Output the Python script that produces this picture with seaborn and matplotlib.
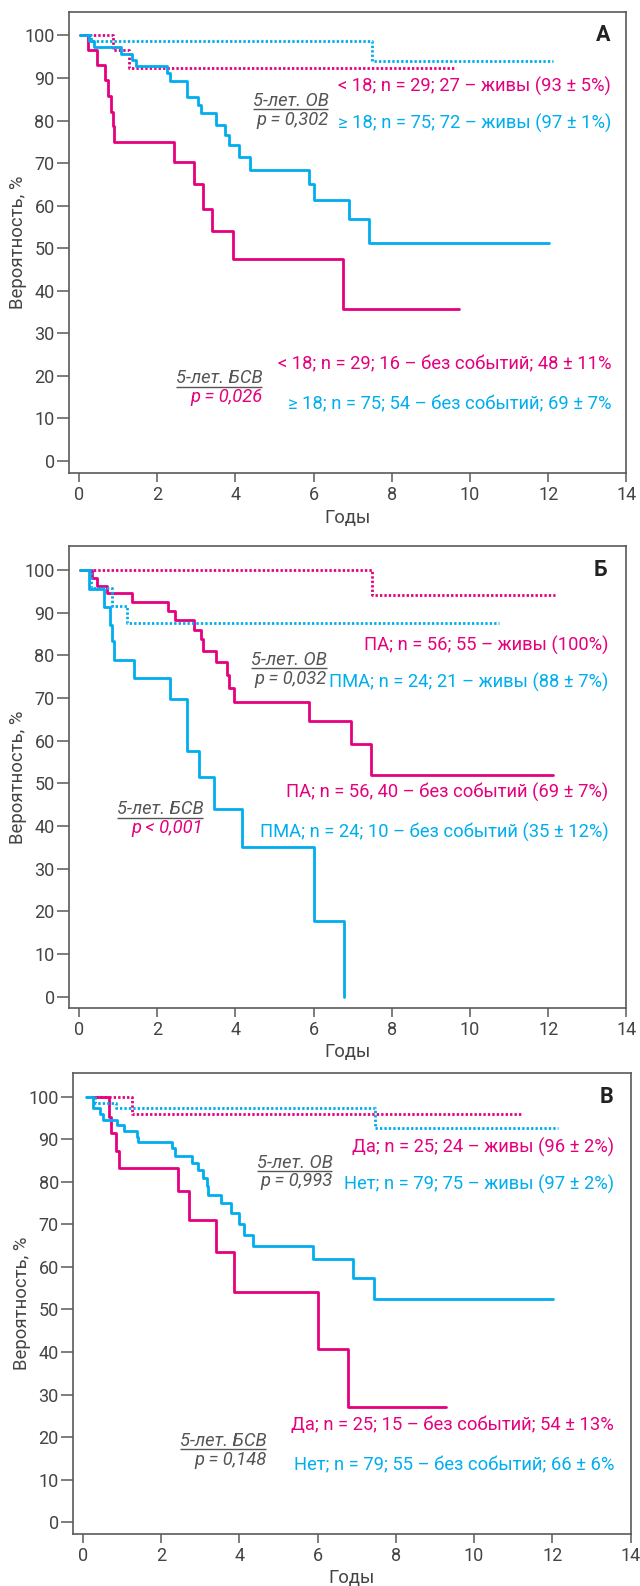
import numpy as np
import pandas as pd
import matplotlib.pyplot as plt
import seaborn as sns

PINK = '#E5007E'
BLUE = '#00AEEF'
GREY = '#555555'
AXC = '#5a5a5a'

# ---- Панель А (возраст) ----
a_os_lt18_t = [0.03, 0.88, 1.28, 9.65]
a_os_lt18_s = [100, 96.5, 92.4, 92.4]
a_os_ge18_t = [0.03, 0.30, 7.49, 12.13]
a_os_ge18_s = [100, 98.6, 93.9, 93.9]
a_efs_lt18_t = [0.03, 0.24, 0.47, 0.66, 0.74, 0.82, 0.87, 0.91, 2.43, 2.94, 3.18, 3.41, 3.94, 6.75, 9.73]
a_efs_lt18_s = [100, 96.5, 93.0, 89.5, 85.8, 82.0, 78.6, 75.0, 70.3, 65.0, 59.3, 54.0, 47.5, 35.7, 35.7]
a_efs_ge18_t = [0.03, 0.25, 0.38, 1.08, 1.35, 1.46, 2.26, 2.33, 2.77, 3.05, 3.12, 3.52, 3.75, 3.83,
                4.09, 4.37, 5.89, 6.00, 6.91, 7.43, 12.02]
a_efs_ge18_s = [100, 98.7, 97.3, 95.7, 94.3, 92.8, 91.2, 89.2, 85.6, 83.6, 81.7, 79.0, 76.7, 74.2,
                71.4, 68.4, 65.1, 61.4, 56.9, 51.2, 51.2]
a_groups = ['< 18', '≥ 18']
a_os_text = ['< 18; n = 29; 27 – живы (93 ± 5%)', '≥ 18; n = 75; 72 – живы (97 ± 1%)']
a_efs_text = ['< 18; n = 29; 16 – без событий; 48 ± 11%', '≥ 18; n = 75; 54 – без событий; 69 ± 7%']
a_p = ['p = 0,302', 'p = 0,026']

# ---- Панель Б (ПА / ПМА) ----
b_os_pa_t = [0.03, 7.49, 12.18]
b_os_pa_s = [100, 94.1, 94.1]
b_os_pma_t = [0.03, 0.30, 0.84, 1.22, 10.73]
b_os_pma_s = [100, 95.8, 91.6, 87.5, 87.5]
b_efs_pa_t = [0.03, 0.33, 0.47, 0.72, 1.35, 2.29, 2.45, 2.94, 3.12, 3.18, 3.52, 3.78, 3.85, 3.96,
              5.89, 6.96, 7.46, 12.13]
b_efs_pa_s = [100, 98.1, 96.3, 94.5, 92.6, 90.5, 88.3, 86.0, 83.8, 81.1, 78.5, 75.5, 72.4, 69.0,
              64.7, 59.3, 51.9, 51.9]
b_efs_pma_t = [0.03, 0.25, 0.65, 0.79, 0.85, 0.91, 1.42, 2.34, 2.77, 3.08, 3.45, 4.16, 6.02, 6.78]
b_efs_pma_s = [100, 95.5, 91.4, 87.1, 83.3, 78.9, 74.8, 69.8, 57.5, 51.4, 43.9, 35.1, 17.7, 0]
b_groups = ['ПА', 'ПМА']
b_os_text = ['ПА; n = 56; 55 – живы (100%)', 'ПМА; n = 24; 21 – живы (88 ± 7%)']
b_efs_text = ['ПА; n = 56, 40 – без событий (69 ± 7%)', 'ПМА; n = 24; 10 – без событий (35 ± 12%)']
b_p = ['p = 0,032', 'p < 0,001']

# ---- Панель В (Да / Нет) ----
c_os_da_t = [0.20, 1.26, 11.20]
c_os_da_s = [100, 95.9, 95.9]
c_os_net_t = [0.07, 0.30, 0.84, 7.46, 12.15]
c_os_net_s = [100, 98.6, 97.3, 92.5, 92.5]
c_efs_da_t = [0.20, 0.67, 0.73, 0.84, 0.92, 2.43, 2.71, 3.39, 3.86, 6.01, 6.78, 9.28]
c_efs_da_s = [100, 95.3, 91.4, 87.1, 83.3, 77.8, 71.0, 63.4, 54.2, 40.6, 27.0, 27.0]
c_efs_net_t = [0.07, 0.26, 0.43, 0.51, 0.87, 1.04, 1.38, 1.42, 2.29, 2.35, 2.80, 2.94, 3.07, 3.16,
               3.20, 3.53, 3.78, 4.00, 4.12, 4.36, 5.88, 6.91, 7.44, 12.02]
c_efs_net_s = [100, 97.3, 95.9, 94.6, 93.4, 92.0, 90.6, 89.3, 87.9, 86.0, 84.3, 82.8, 80.9, 78.9,
               76.9, 75.0, 72.6, 70.0, 67.5, 64.8, 61.8, 57.4, 52.5, 52.5]
c_groups = ['Да', 'Нет']
c_os_text = ['Да; n = 25; 24 – живы (96 ± 2%)', 'Нет; n = 79; 75 – живы (97 ± 2%)']
c_efs_text = ['Да; n = 25; 15 – без событий; 54 ± 13%', 'Нет; n = 79; 55 – без событий; 66 ± 6%']
c_p = ['p = 0,993', 'p = 0,148']

letters = ['А', 'Б', 'В']

FS = 13.2  # подписи на графике


def curve(t, s, group, end):
    return pd.DataFrame({'Годы': t, 'p': s, 'group': group, 'end': end})


sns.set_theme(style='ticks')
plt.rcParams['font.family'] = ['Roboto', 'DejaVu Sans']
plt.rcParams['axes.edgecolor'] = AXC
plt.rcParams['axes.linewidth'] = 1.2

fig = plt.figure(figsize=(6.4, 15.86), dpi=100)

panels = [
    dict(pos=[0.1072, 0.70195, 0.8717, 0.29048], groups=a_groups,
         curves=[(a_os_lt18_t, a_os_lt18_s, 0, 'ОВ'), (a_os_ge18_t, a_os_ge18_s, 1, 'ОВ'),
                 (a_efs_lt18_t, a_efs_lt18_s, 0, 'БСВ'), (a_efs_ge18_t, a_efs_ge18_s, 1, 'БСВ')],
         os_text=a_os_text, efs_text=a_efs_text, p=a_p, p_efs_col=PINK,
         os_y=[88.0, 79.3], efs_y=[22.8, 13.4], txt_x=13.61,
         os_frac=(6.38, 82.6), efs_frac=(4.69, 17.4), ylim=(-2.75, 105.5), xlab=-0.098),
    dict(pos=[0.1072, 0.36425, 0.8717, 0.29168], groups=b_groups,
         curves=[(b_os_pa_t, b_os_pa_s, 0, 'ОВ'), (b_os_pma_t, b_os_pma_s, 1, 'ОВ'),
                 (b_efs_pa_t, b_efs_pa_s, 0, 'БСВ'), (b_efs_pma_t, b_efs_pma_s, 1, 'БСВ')],
         os_text=b_os_text, efs_text=b_efs_text, p=b_p, p_efs_col=PINK,
         os_y=[82.4, 73.6], efs_y=[48.0, 38.4], txt_x=13.54,
         os_frac=(6.34, 77.0), efs_frac=(3.18, 42.0), ylim=(-2.7, 105.7), xlab=-0.094),
    dict(pos=[0.1136, 0.03260, 0.8717, 0.29104], groups=c_groups,
         curves=[(c_os_da_t, c_os_da_s, 0, 'ОВ'), (c_os_net_t, c_os_net_s, 1, 'ОВ'),
                 (c_efs_da_t, c_efs_da_s, 0, 'БСВ'), (c_efs_net_t, c_efs_net_s, 1, 'БСВ')],
         os_text=c_os_text, efs_text=c_efs_text, p=c_p, p_efs_col=GREY,
         os_y=[88.0, 79.4], efs_y=[22.9, 13.5], txt_x=13.58,
         os_frac=(6.38, 82.5), efs_frac=(4.69, 17.2), ylim=(-2.8, 105.6), xlab=-0.095),
]

fracs = []
for k, pn in enumerate(panels):
    ax = fig.add_axes(pn['pos'])
    g = pn['groups']
    df = pd.concat([curve(t, s, g[i], e) for t, s, i, e in pn['curves']], ignore_index=True)
    sns.lineplot(data=df, x='Годы', y='p', hue='group', style='end',
                 hue_order=g, palette={g[0]: PINK, g[1]: BLUE},
                 style_order=['ОВ', 'БСВ'], dashes={'ОВ': (0.85, 0.75), 'БСВ': ''},
                 estimator=None, sort=False, drawstyle='steps-post', lw=2.0,
                 legend=False, ax=ax)
    ax.set_xlim(-0.26, 14)
    ax.set_ylim(*pn['ylim'])
    ax.set_xticks(range(0, 15, 2))
    ax.set_yticks(range(0, 101, 10))
    for sp in ax.spines.values():
        sp.set_visible(True)
        sp.set_color(AXC)
        sp.set_linewidth(1.2)
    ax.tick_params(axis='y', length=8.5, width=1.1, color=AXC, labelsize=13,
                   labelcolor='#444444', pad=1.5)
    ax.tick_params(axis='x', length=6.5, width=1.1, color=AXC, labelsize=13,
                   labelcolor='#444444', pad=3)
    ax.set_ylabel('Вероятность, %', fontsize=13.3, color='#444444')
    ax.yaxis.label.set_va('center')
    ax.yaxis.set_label_coords(-0.0907, 0.5)
    ax.set_xlabel('Годы', fontsize=13.3, color='#444444')
    ax.xaxis.label.set_va('center')
    ax.xaxis.set_label_coords(0.5, pn['xlab'])

    ax.text(pn['txt_x'] - 0.2, 100, letters[k], fontsize=15.5, fontweight='bold',
            ha='center', va='center', color='#222222')
    for i in range(2):
        ax.text(pn['txt_x'], pn['os_y'][i], pn['os_text'][i], ha='right', va='center',
                fontsize=FS, color=[PINK, BLUE][i])
        ax.text(pn['txt_x'], pn['efs_y'][i], pn['efs_text'][i], ha='right', va='center',
                fontsize=FS, color=[PINK, BLUE][i])

    for (fx, fy), head, pv, pc in [(pn['os_frac'], '5-лет. ОВ', pn['p'][0], GREY),
                                   (pn['efs_frac'], '5-лет. БСВ', pn['p'][1], pn['p_efs_col'])]:
        t1 = ax.annotate(head, (fx, fy), xytext=(0, 2.5), textcoords='offset points',
                         ha='right', va='baseline', fontsize=FS, style='italic', color=GREY)
        t2 = ax.annotate(pv, (fx, fy), xytext=(0, -1), textcoords='offset points',
                         ha='right', va='top', fontsize=FS, style='italic', color=pc)
        fracs.append((ax, fy, t1, t2))

# черта под "5-лет." во всю ширину блока
fig.canvas.draw()
r = fig.canvas.get_renderer()
for ax, fy, t1, t2 in fracs:
    b1 = t1.get_window_extent(r)
    b2 = t2.get_window_extent(r)
    x0 = min(b1.x0, b2.x0)
    x1 = max(b1.x1, b2.x1)
    inv = ax.transData.inverted()
    d0 = inv.transform((x0, 0))[0]
    d1 = inv.transform((x1, 0))[0]
    ax.hlines(fy, d0, d1, color=GREY, lw=1.0)

fig.savefig('out.png', dpi=100)
